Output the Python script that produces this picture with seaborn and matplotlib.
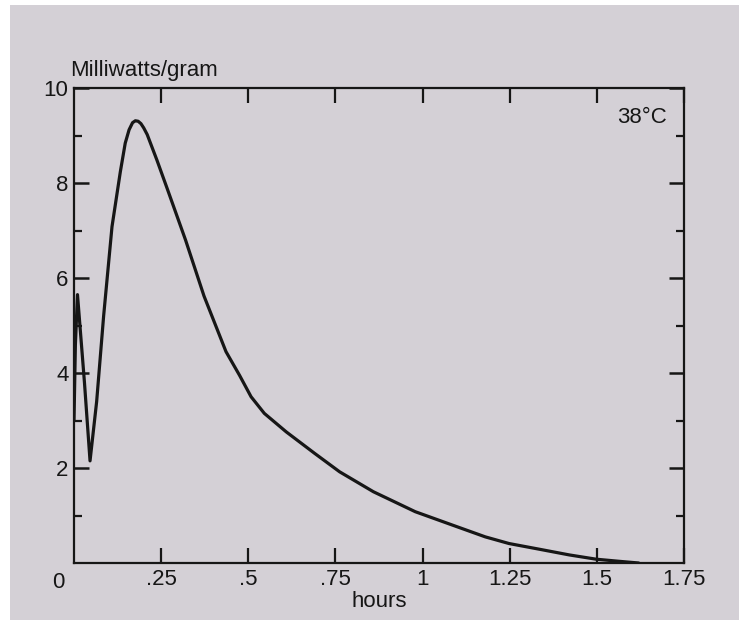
import matplotlib
matplotlib.use("Agg")
import matplotlib.pyplot as plt
import seaborn as sns
import pandas as pd
from matplotlib.patches import Rectangle

# --- values ---
hours = [0.0, 0.004, 0.01, 0.03, 0.046, 0.065, 0.085, 0.109, 0.133, 0.147,
         0.158, 0.168, 0.176, 0.184, 0.192, 0.2, 0.21, 0.238, 0.267, 0.32,
         0.373, 0.436, 0.475, 0.508, 0.546, 0.609, 0.69, 0.762, 0.859, 0.979,
         1.085, 1.18, 1.248, 1.335, 1.421, 1.498, 1.565, 1.62]
milliwatts = [3.0, 4.6, 5.65, 3.8, 2.15, 3.4, 5.2, 7.08, 8.24, 8.84,
              9.12, 9.27, 9.31, 9.3, 9.25, 9.16, 9.02, 8.48, 7.89, 6.8,
              5.62, 4.45, 3.95, 3.5, 3.15, 2.76, 2.31, 1.92, 1.50, 1.08,
              0.8, 0.55, 0.41, 0.29, 0.17, 0.08, 0.035, 0.0]

x_ticks = [0.25, 0.5, 0.75, 1.0, 1.25, 1.5, 1.75]
x_tick_labels = [".25", ".5", ".75", "1", "1.25", "1.5", "1.75"]
y_major = [2, 4, 6, 8, 10]
y_major_labels = ["2", "4", "6", "8", "10"]
y_minor = [1, 3, 5, 7, 9]

BG = "#d4d0d6"
INK = "#161616"

sns.set_style("ticks")
plt.rcParams["font.family"] = ["Liberation Sans", "DejaVu Sans"]

fig = plt.figure(figsize=(7.39, 6.2), dpi=100, facecolor="white")
# scanned page: grey sheet with a thin white margin left and top
fig.patches.append(Rectangle((10 / 739, 0), 1, 1 - 5 / 620, transform=fig.transFigure,
                             facecolor=BG, edgecolor="none", zorder=-5))
ax = fig.add_axes([74 / 739, 1 - 563 / 620, 610 / 739, 475 / 620])
ax.set_facecolor(BG)

df = pd.DataFrame({"hours": hours, "mw": milliwatts})
sns.lineplot(data=df, x="hours", y="mw", color=INK, linewidth=2.3, ax=ax, sort=False)

ax.set_xlim(0, 1.75)
ax.set_ylim(0, 10)
for s in ax.spines.values():
    s.set_visible(True)
    s.set_linewidth(1.6)
    s.set_color(INK)

ax.set_xticks(x_ticks)
ax.set_xticklabels(x_tick_labels, fontsize=16, color=INK)
ax.set_yticks(y_major)
ax.set_yticklabels(y_major_labels, fontsize=16, color=INK)
ax.set_yticks(y_minor, minor=True)
ax.tick_params(axis="x", which="major", direction="in", length=11, width=1.6,
               top=True, bottom=True, color=INK, pad=4)
ax.tick_params(axis="y", which="major", direction="in", length=11, width=1.8,
               left=True, right=True, color=INK, pad=4)
ax.tick_params(axis="y", which="minor", direction="in", length=6, width=1.6,
               left=True, right=True, color=INK)

ax.set_xlabel("hours", fontsize=16, color=INK, labelpad=1)
ax.set_ylabel("")
ax.text(-0.01, 10.15, "Milliwatts/gram", fontsize=16, color=INK,
        ha="left", va="bottom")
ax.text(1.7, 9.6, "38°C", fontsize=16, color=INK, ha="right", va="top")
ax.text(-0.045, -0.2, "0", fontsize=16, color=INK, ha="center", va="top",
        clip_on=False)

fig.savefig("out.png", dpi=100, facecolor=fig.get_facecolor())
